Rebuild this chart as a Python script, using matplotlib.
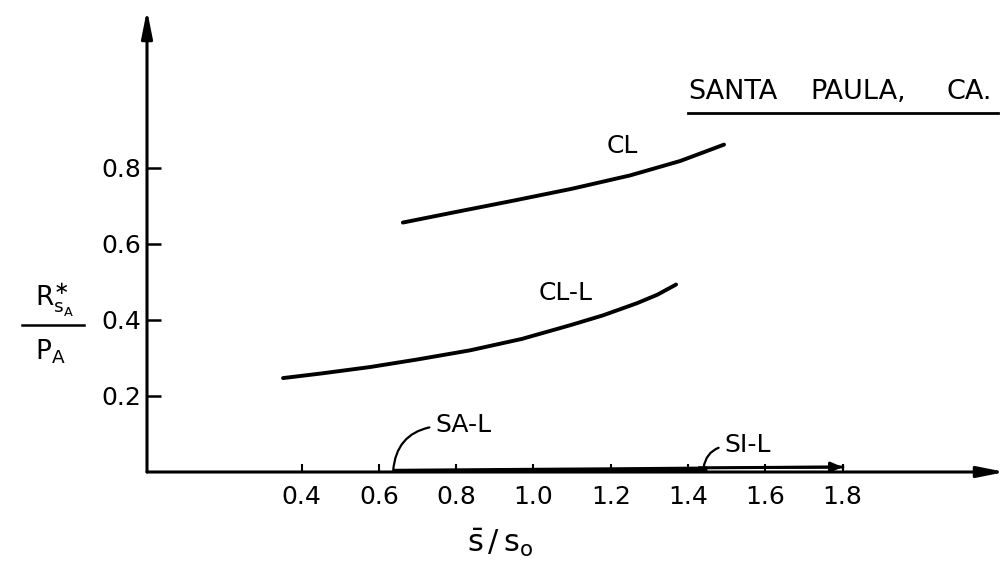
import matplotlib.pyplot as plt
from matplotlib.lines import Line2D

# ---------- curve readings (s/so vs Rs*/P) ----------
cl_x = [0.662, 0.80, 0.95, 1.10, 1.25, 1.38, 1.493]
cl_y = [0.656, 0.684, 0.714, 0.745, 0.780, 0.818, 0.861]

cll_x = [0.352, 0.45, 0.577, 0.70, 0.836, 0.97, 1.095, 1.18, 1.268, 1.32, 1.369]
cll_y = [0.247, 0.259, 0.276, 0.296, 0.320, 0.350, 0.386, 0.412, 0.444, 0.466, 0.493]

sal_x = [0.637, 0.90, 1.20, 1.45]
sal_y = [0.002, 0.004, 0.006, 0.008]

sil_x = [1.43, 1.60, 1.80]
sil_y = [0.011, 0.012, 0.013]

x_ticks = [0.4, 0.6, 0.8, 1.0, 1.2, 1.4, 1.6, 1.8]
x_tick_labels = ["0.4", "0.6", "0.8", "1.0", "1.2", "1.4", "1.6", "1.8"]
y_ticks = [0.2, 0.4, 0.6, 0.8]
y_tick_labels = ["0.2", "0.4", "0.6", "0.8"]

title_words = ["SANTA", "PAULA,", "CA."]

plt.rcParams["font.family"] = "DejaVu Sans"
plt.rcParams["mathtext.default"] = "regular"

fig = plt.figure(figsize=(10.08, 5.63), dpi=100)
ax = fig.add_axes([147 / 1008, 91 / 563, 858 / 1008, 462 / 563])
ax.set_xlim(0, 2.22)
ax.set_ylim(0, 1.215)
for s in ax.spines.values():
    s.set_visible(False)

# axes drawn as arrows
arrow_kw = dict(arrowstyle="-|>,head_length=1.1,head_width=0.22", mutation_scale=15,
                lw=2.2, color="black", shrinkA=0, shrinkB=0)
ax.annotate("", xy=(1, 0), xytext=(0, 0), xycoords="axes fraction",
            arrowprops=arrow_kw, annotation_clip=False)
ax.annotate("", xy=(0, 1), xytext=(0, 0), xycoords="axes fraction",
            arrowprops=arrow_kw, annotation_clip=False)

ax.set_xticks(x_ticks)
ax.set_xticklabels(x_tick_labels)
ax.set_yticks(y_ticks)
ax.set_yticklabels(y_tick_labels)
ax.tick_params(axis="x", direction="in", length=6, width=1.5, labelsize=18, pad=9)
ax.tick_params(axis="y", direction="in", length=10, width=1.8, labelsize=18, pad=4)

# curves
ax.plot(cl_x, cl_y, color="black", lw=2.8, solid_capstyle="round")
ax.plot(cll_x, cll_y, color="black", lw=2.8, solid_capstyle="round")
ax.plot(sal_x, sal_y, color="black", lw=3.5, solid_capstyle="butt")
ax.plot(sil_x, sil_y, color="black", lw=2.2)
ax.annotate("", xy=(sil_x[-1], sil_y[-1]), xytext=(sil_x[-2], sil_y[-2]),
            arrowprops=dict(arrowstyle="-|>,head_length=0.7,head_width=0.3",
                            mutation_scale=10, lw=2, color="black", shrinkA=0, shrinkB=0))

# curve labels
ax.text(1.229, 0.858, "CL", fontsize=18, ha="center", va="center")
ax.text(1.084, 0.470, "CL-L", fontsize=18, ha="center", va="center")
ax.annotate("SA-L", xy=(sal_x[0], 0.004), xytext=(0.745, 0.123), fontsize=18,
            ha="left", va="center",
            arrowprops=dict(arrowstyle="-", connectionstyle="arc3,rad=0.4", lw=1.6,
                            color="black", shrinkA=2, shrinkB=0, relpos=(0, 0.45)))
ax.annotate("SI-L", xy=(1.44, 0.011), xytext=(1.493, 0.071), fontsize=18,
            ha="left", va="center",
            arrowprops=dict(arrowstyle="-", connectionstyle="arc3,rad=0.35", lw=1.6,
                            color="black", shrinkA=2, shrinkB=0, relpos=(0, 0.45)))

# site title, word by word, with underline
for word, px in zip(title_words, [688, 810, 947]):
    fig.text(px / 1008, 1 - 92 / 563, word, fontsize=19.5, ha="left", va="center")
fig.add_artist(Line2D([688 / 1008, 998 / 1008], [1 - 113 / 563] * 2,
                      transform=fig.transFigure, color="black", lw=2))

# y label as a fraction
fig.text(55 / 1008, 1 - 300 / 563, r"$R^{\ast}_{s_A}$", fontsize=19, ha="center", va="center")
fig.add_artist(Line2D([22 / 1008, 84 / 1008], [1 - 325 / 563] * 2,
                      transform=fig.transFigure, color="black", lw=1.8))
fig.text(50 / 1008, 1 - 352 / 563, r"$P_A$", fontsize=19, ha="center", va="center")

# x label
fig.text(500 / 1008, 1 - 543 / 563, r"$\bar{s}\,/\,s_o$", fontsize=22, ha="center", va="center")

fig.savefig("out.png", dpi=100)
